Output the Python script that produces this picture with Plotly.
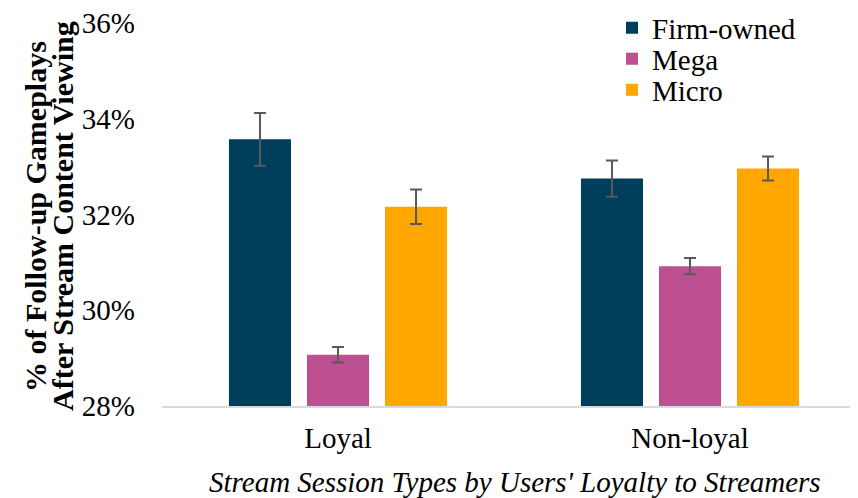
import plotly.graph_objects as go

categories = ["Loyal", "Non-loyal"]
series_names = ["Firm-owned", "Mega", "Micro"]
firm_vals = [33.57, 32.75]
mega_vals = [29.07, 30.92]
micro_vals = [32.16, 32.96]
firm_err = [0.55, 0.38]
mega_err = [0.16, 0.17]
micro_err = [0.36, 0.25]
y_ticks = [28, 30, 32, 34, 36]
y_tick_labels = ["28%", "30%", "32%", "34%", "36%"]
y_title_lines = ["% of Follow-up Gameplays", "After Stream Content Viewing"]
x_title = "Stream Session Types by Users' Loyalty to Streamers"

colors = ["#003f5c", "#bc5090", "#ffa600"]
FF = "Liberation Serif"
FS = 29

# page is rendered with an 8px body margin; layout coordinates compensate
OFF = 8
W, H = 858, 498
L, T = 162 - OFF, 23 - OFF
PH = 383
PW = W - L
B = H - T - PH

def px_x(page_x):
    return (page_x - OFF - L) / PW

def px_y(page_y):
    return (T + PH - (page_y - OFF)) / PH

fig = go.Figure()
legend_ids = ["legend", "legend2", "legend3"]
for name, vals, errs, col, lg in zip(series_names, [firm_vals, mega_vals, micro_vals],
                                     [firm_err, mega_err, micro_err], colors, legend_ids):
    fig.add_trace(go.Bar(
        name=name, x=categories, y=vals, legend=lg,
        marker=dict(color=col, line=dict(width=0)),
        error_y=dict(type="data", array=errs, visible=True,
                     color="#595959", thickness=2, width=6),
    ))

legend_rows = [28, 59, 90]
leg_common = dict(x=px_x(612), xanchor="left", yref="container", yanchor="middle",
                  font=dict(size=FS, family=FF, color="#000"),
                  bgcolor="rgba(0,0,0,0)", itemwidth=30)
legends = {}
for lg, row in zip(legend_ids, legend_rows):
    legends[lg] = dict(leg_common, y=1 - (row - OFF) / H)

YT = 30
fig.update_layout(
    width=W, height=H,
    margin=dict(l=L, r=0, t=T, b=B, autoexpand=False),
    paper_bgcolor="white", plot_bgcolor="white",
    barmode="group", bargap=0.335, bargroupgap=0.205,
    font=dict(family=FF, size=FS, color="#000000"),
    showlegend=True,
    xaxis=dict(
        range=[-0.5, 1.5], automargin=False,
        showline=True, linecolor="#d9d9d9", linewidth=2,
        showgrid=False, ticks="", ticklabelstandoff=5,
        tickfont=dict(size=FS, family=FF),
    ),
    yaxis=dict(
        range=[28, 36], tickvals=y_ticks, ticktext=y_tick_labels, automargin=False,
        showline=False, showgrid=False, zeroline=False, ticks="",
        ticklabelstandoff=26, ticklabeloverflow="allow",
        tickfont=dict(size=FS, family=FF),
    ),
    annotations=[
        dict(text="<b>" + y_title_lines[0] + "</b>", xref="paper", yref="paper",
             x=px_x(35), y=px_y(217), textangle=-90, showarrow=False,
             xanchor="center", yanchor="middle", font=dict(size=YT, family=FF)),
        dict(text="<b>" + y_title_lines[1] + "</b>", xref="paper", yref="paper",
             x=px_x(62), y=px_y(216), textangle=-90, showarrow=False,
             xanchor="center", yanchor="middle", font=dict(size=YT, family=FF)),
        dict(text="<i>" + x_title + "</i>", xref="paper", yref="paper",
             x=px_x(515), y=px_y(482), showarrow=False,
             xanchor="center", yanchor="middle", font=dict(size=FS, family=FF)),
    ],
    **legends,
)

fig.write_html("out.html")
